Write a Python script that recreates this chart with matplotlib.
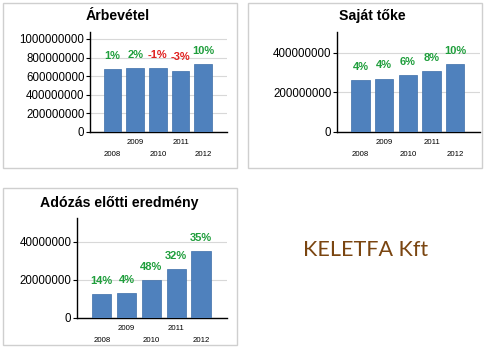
import matplotlib
matplotlib.use("Agg")
import matplotlib.pyplot as plt
from matplotlib.patches import Rectangle

plt.rcParams["font.family"] = ["Liberation Sans", "DejaVu Sans"]

W, H = 490, 357
DPI = 100

years = ["2008", "2009", "2010", "2011", "2012"]

revenue = [677e6, 690e6, 685e6, 660e6, 728e6]
revenue_pct = ["1%", "2%", "-1%", "-3%", "10%"]

equity = [262e6, 270e6, 287e6, 309e6, 343e6]
equity_pct = ["4%", "4%", "6%", "8%", "10%"]

pretax = [12.6e6, 13.0e6, 19.8e6, 25.8e6, 35.3e6]
pretax_pct = ["14%", "4%", "48%", "32%", "35%"]

BAR = "#4f81bd"
GREEN = "#1f9e3c"
RED = "#e0201f"


def px_rect(left, top, right, bottom):
    return [left / W, (H - bottom) / H, (right - left) / W, (bottom - top) / H]


def panel(fig, box, rect, title, title_xy, values, pct, yticks, ymax, width=0.78):
    fig.patches.append(Rectangle((box[0] / W, (H - box[3]) / H),
                                 (box[2] - box[0]) / W, (box[3] - box[1]) / H,
                                 transform=fig.transFigure, fill=False,
                                 edgecolor="#cfcfcf", lw=1.0))
    fig.text(title_xy[0] / W, (H - title_xy[1]) / H, title,
             ha="center", va="center", fontsize=10.2, fontweight="bold")
    ax = fig.add_axes(px_rect(*rect))
    x = list(range(len(values)))
    ax.bar(x, values, width=width, color=BAR, edgecolor="#3d6ea8", lw=0.5, zorder=3)
    ax.set_xlim(-1.0, 5.05)
    ax.set_ylim(0, ymax)
    ax.set_yticks(yticks)
    ax.set_yticklabels([f"{int(t)}" for t in yticks])
    ax.tick_params(axis="y", labelsize=8.3, length=3, width=0.8, pad=1)
    ax.set_xticks([])
    ax.grid(axis="y", color="#d8d8d8", lw=0.8, zorder=0)
    for s in ("top", "right"):
        ax.spines[s].set_visible(False)
    for s in ("left", "bottom"):
        ax.spines[s].set_linewidth(1.0)
    for i, (v, p) in enumerate(zip(values, pct)):
        ax.annotate(p, (i, v), xytext=(0, 9.5), textcoords="offset points",
                    ha="center", va="center", fontsize=8, fontweight="bold",
                    color=RED if p.startswith("-") else GREEN)
        dy = -7.5 if i % 2 else -16
        ax.annotate(years[i], (i, 0), xycoords=("data", "axes fraction"),
                    xytext=(0, dy), textcoords="offset points",
                    ha="center", va="center", fontsize=5.6)
    return ax


fig = plt.figure(figsize=(W / DPI, H / DPI), dpi=DPI)

panel(fig, (3, 3, 237, 168), (90, 32, 227, 132), "Árbevétel", (118, 16),
      revenue, revenue_pct, [0, 2e8, 4e8, 6e8, 8e8, 1e9], 1.075e9)
panel(fig, (248, 3, 482, 168), (337, 32, 480, 132), "Saját tőke", (372, 16),
      equity, equity_pct, [0, 2e8, 4e8], 5.06e8)
panel(fig, (3, 188, 237, 345), (77, 218, 227, 318), "Adózás előtti eredmény", (119, 203),
      pretax, pretax_pct, [0, 2e7, 4e7], 5.26e7)

fig.text(366 / W, (H - 250) / H, "KELETFA Kft", ha="center", va="center",
         fontsize=15.5, color="#7a4510", family=["Lato", "DejaVu Sans"])

fig.savefig("out.png", dpi=DPI)
